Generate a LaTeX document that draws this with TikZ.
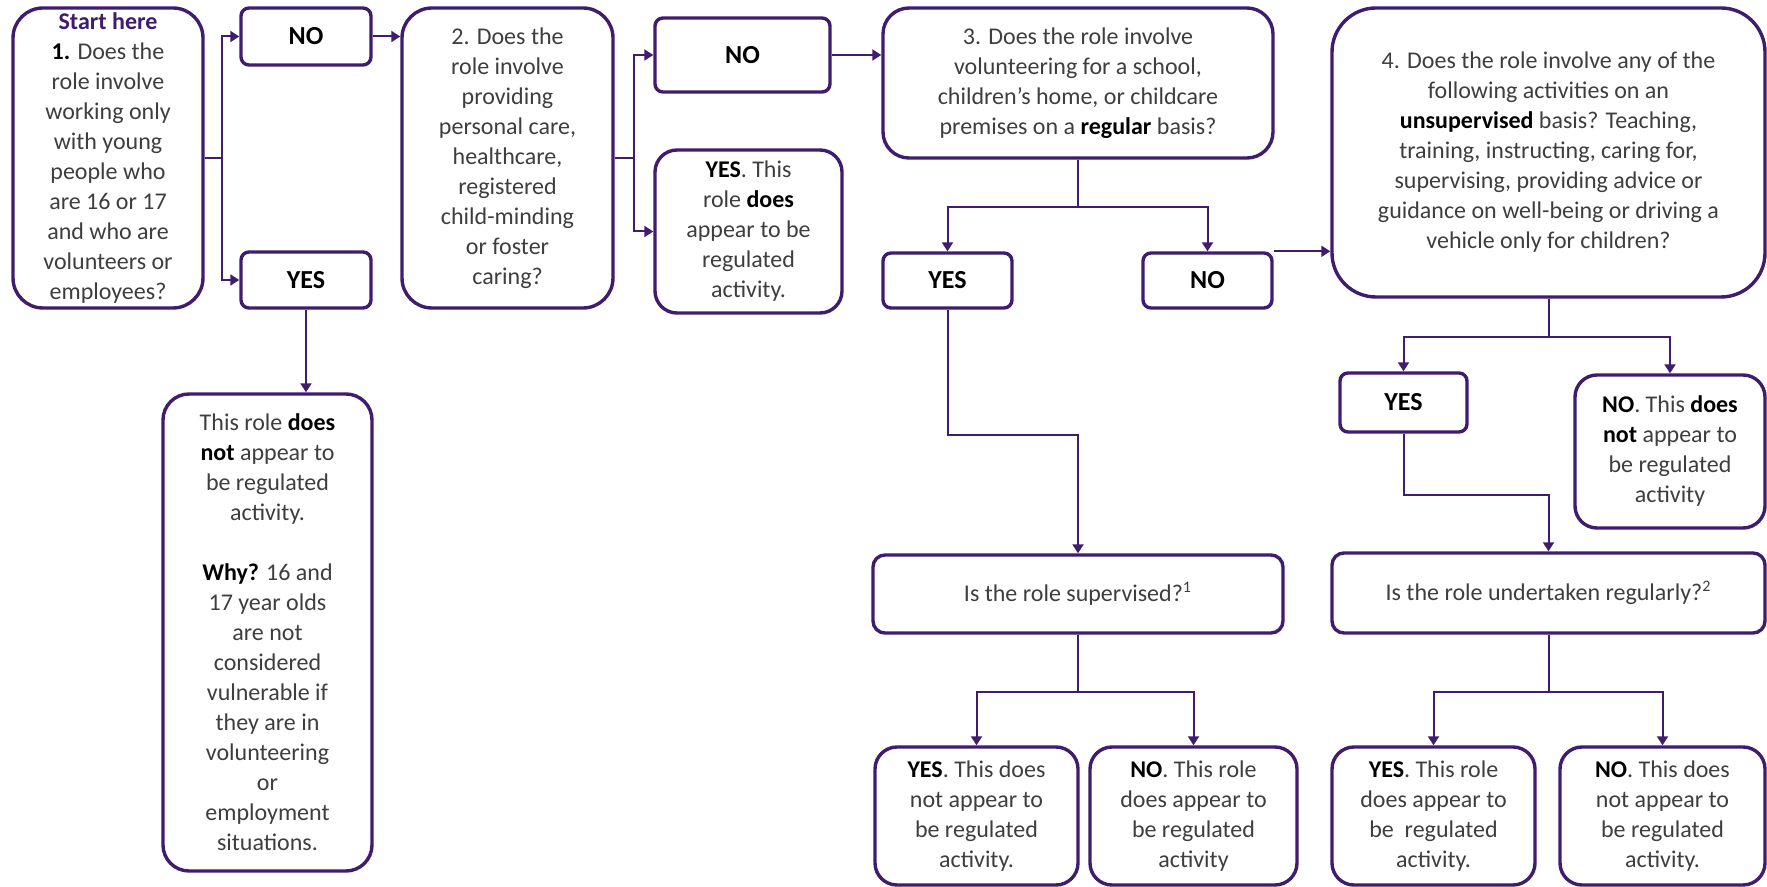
\documentclass[tikz,border=0pt]{standalone}
\usepackage{fontspec}
\setmainfont{Carlito}
\usetikzlibrary{arrows.meta,calc}
\definecolor{vpurple}{RGB}{64,28,110}
\definecolor{vtext}{RGB}{62,62,62}
\newcommand{\bk}[1]{\textcolor{black}{\textbf{#1}}}
\tikzset{
  box/.style={draw=vpurple, line width=1.7pt, fill=white, align=center, text=vtext, inner sep=0pt,
    font=\fontsize{12}{15}\selectfont},
  qbox/.style={box, rounded corners=13pt},
  ansbox/.style={box, rounded corners=4pt, text=black, font=\fontsize{13}{15}\selectfont\bfseries},
  resbox/.style={box, rounded corners=11pt},
  link/.style={draw=vpurple, line width=1pt},
  arr/.style={link, -{Triangle[length=4.5pt,width=5.5pt]}},
}

\begin{document}
\begin{tikzpicture}[x=0.5pt, y=-0.5pt]
			\useasboundingbox (0,0) rectangle (1767,887);
			
			%%%%% QUESTION 1 %%%%%
			\node[qbox, rounded corners=15pt, minimum width=95pt, minimum height=150pt] (q1) at (108,158)
			{\textcolor{vpurple}{\textbf{Start here}}\\ \bk{1.} Does the\\ role involve\\ working only\\ with young\\
			 people who\\ are 16 or 17\\ and who are\\ volunteers or\\ employees?};
			\node[ansbox, minimum width=65pt, minimum height=28.5pt] (no1) at (306,36.5) {NO};
			\node[ansbox, minimum width=65pt, minimum height=28pt] (yes1) at (306,280) {YES};
			\node[resbox, rounded corners=13pt, minimum width=104.5pt, minimum height=238.5pt] (res1) at (267.5,632.5)
			{This role \bk{does}\\ \bk{not} appear to\\ be regulated\\ activity.\\[15pt]
			 \bk{Why?} 16 and\\ 17 year olds\\ are not\\ considered\\ vulnerable if\\ they are in\\ volunteering\\ or\\
			 employment\\ situations.};
			
			%%%%% QUESTION 2 %%%%%
			\node[qbox, rounded corners=15pt, minimum width=105.5pt, minimum height=150pt] (q2) at (507.5,158)
			{2. Does the\\ role involve\\ providing\\ personal care,\\ healthcare,\\ registered\\ child-minding\\
			 or foster\\ caring?};
			\node[ansbox, minimum width=87.5pt, minimum height=37pt] (no2) at (742.5,55) {NO};
			\node[resbox, minimum width=93.5pt, minimum height=81.5pt] (res2) at (748.5,231.5)
			{\bk{YES}. This\\ role \bk{does}\\ appear to be\\ regulated\\ activity.};
			
			%%%%% QUESTION 3 %%%%%
			\node[qbox, minimum width=195pt, minimum height=75pt] (q3) at (1078,83)
			{3. Does the role involve\\ volunteering for a school,\\ children’s home, or childcare\\
			 premises on a \bk{regular} basis?};
			\node[ansbox, minimum width=64.5pt, minimum height=27.5pt] (yes3) at (947.5,280.5) {YES};
			\node[ansbox, minimum width=64.5pt, minimum height=27.5pt] (no3) at (1207.5,280.5) {NO};
			
			%%%%% QUESTION 4 %%%%%
			\node[qbox, rounded corners=22pt, minimum width=216.5pt, minimum height=144.5pt] (q4) at (1548.5,152.5)
			{4. Does the role involve any of the\\ following activities on an\\ \bk{unsupervised} basis? Teaching,\\
			 training, instructing, caring for,\\ supervising, providing advice or\\ guidance on well-being or driving a\\
			 vehicle only for children?};
			\node[ansbox, minimum width=63.5pt, minimum height=29.5pt] (yes4) at (1403.5,402.5) {YES};
			\node[resbox, minimum width=95pt, minimum height=76.5pt] (res4) at (1670,451.5)
			{\bk{NO}. This \bk{does}\\ \bk{not} appear to\\ be regulated\\ activity};
			
			%%%%% SUPERVISED / REGULARLY %%%%%
			\node[qbox, rounded corners=6pt, minimum width=205pt, minimum height=39pt] (q5) at (1078,594)
			{Is the role supervised?\textsuperscript{1}};
			\node[qbox, rounded corners=6pt, minimum width=216.5pt, minimum height=40pt] (q6) at (1548.5,593)
			{Is the role undertaken regularly?\textsuperscript{2}};
			
			\node[resbox, minimum width=101.5pt, minimum height=69pt] (r5y) at (976.5,816)
			{\bk{YES}. This does\\ not appear to\\ be regulated\\ activity.};
			\node[resbox, minimum width=103.5pt, minimum height=69pt] (r5n) at (1193.5,816)
			{\bk{NO}. This role\\ does appear to\\ be regulated\\ activity};
			\node[resbox, minimum width=101.5pt, minimum height=69pt] (r6y) at (1433.5,816)
			{\bk{YES}. This role\\ does appear to\\ be\ \ regulated\\ activity.};
			\node[resbox, minimum width=102.5pt, minimum height=69pt] (r6n) at (1662.5,816)
			{\bk{NO}. This does\\ not appear to\\ be regulated\\ activity.};
			
			%%%%% CONNECTORS %%%%%
			\coordinate (b1) at ($(q1.east)!0.5!(no1.west |- q1.east)$);
			\draw[arr] (q1.east) -- (b1) |- (no1.west);
			\draw[arr] (b1) |- (yes1.west);
			\draw[arr] (no1.east) -- (no1.east -| q2.west);
			\draw[arr] (yes1.south) -- (yes1.south |- res1.north);
			
			\coordinate (b2) at ($(q2.east)!0.5!(no2.west |- q2.east)$);
			\draw[arr] (q2.east) -- (b2) |- (no2.west);
			\draw[arr] (b2) |- (res2.west);
			\draw[arr] (no2.east) -- (no2.east -| q3.west);
			
			\coordinate (b3) at ($(q3.south)+(0,47)$);
			\draw[arr] (q3.south) -- (b3) -| (yes3.north);
			\draw[arr] (b3) -| (no3.north);
			\draw[arr] (no3.north east) -- (no3.north east -| q4.west);
			\draw[arr] (yes3.south) -- ++(0,125) -| (q5.north);
			
			\coordinate (b4) at ($(q4.south)+(0,38)$);
			\draw[arr] (q4.south) -- (b4) -| (yes4.north);
			\draw[arr] (b4) -| (res4.north);
			\draw[arr] (yes4.south) -- ++(0,61) -| (q6.north);
			
			\coordinate (b5) at ($(q5.south)+(0,57)$);
			\draw[arr] (q5.south) -- (b5) -| (r5y.north);
			\draw[arr] (b5) -| (r5n.north);
			\coordinate (b6) at ($(q6.south)+(0,57)$);
			\draw[arr] (q6.south) -- (b6) -| (r6y.north);
			\draw[arr] (b6) -| (r6n.north);
			
			%%%%% END %%%%%
\end{tikzpicture}
\end{document}
